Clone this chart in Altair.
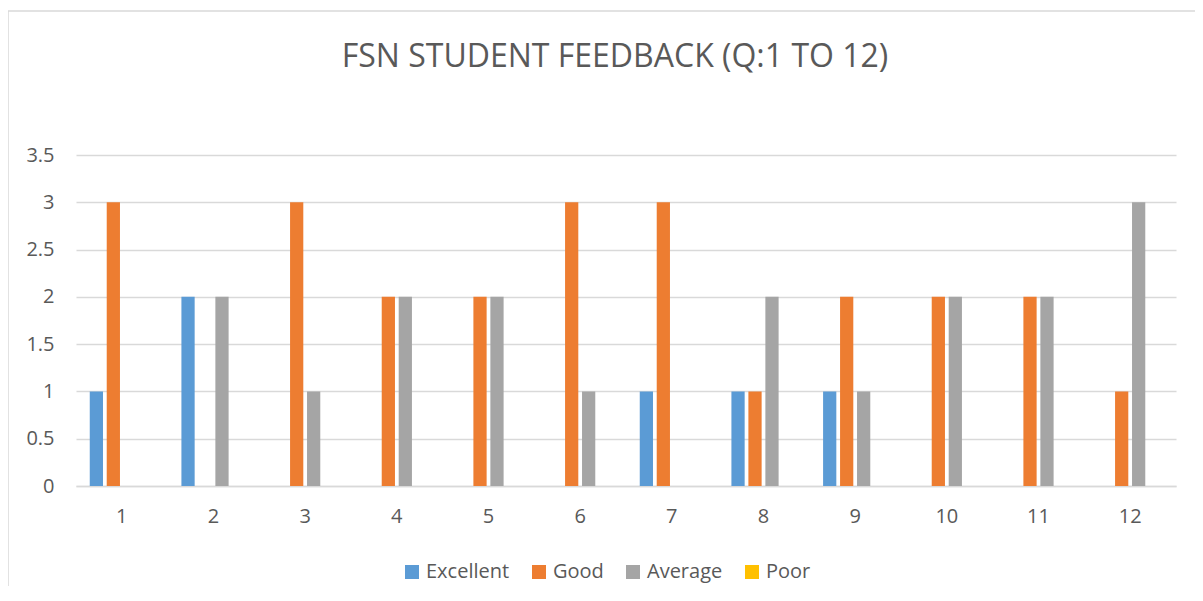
import altair as alt
import pandas as pd

questions = [str(i) for i in range(1, 13)]
series = ["Excellent", "Good", "Average", "Poor"]
excellent = [1, 2, 0, 0, 0, 0, 1, 1, 1, 0, 0, 0]
good = [3, 0, 3, 2, 2, 3, 3, 1, 2, 2, 2, 1]
average = [0, 2, 1, 2, 2, 1, 0, 2, 1, 2, 2, 3]
poor = [0, 0, 0, 0, 0, 0, 0, 0, 0, 0, 0, 0]
colors = ["#5B9BD5", "#ED7D31", "#A5A5A5", "#FFC000"]
y_ticks = [0, 0.5, 1, 1.5, 2, 2.5, 3, 3.5]

rows = []
for name, vals in zip(series, [excellent, good, average, poor]):
    for q, v in zip(questions, vals):
        rows.append({"Question": q, "Rating": name, "Count": v})
df = pd.DataFrame(rows)

FONT = "Open Sans"
TXT = "#595959"

bars = alt.Chart(df).mark_bar().encode(
    x=alt.X("Question:N", sort=questions, title=None,
            scale=alt.Scale(paddingInner=0.30, paddingOuter=0.15),
            axis=alt.Axis(labelAngle=0, ticks=False, domainColor="#D9D9D9",
                          domainWidth=1.5,
                          labelFontSize=20, labelColor=TXT, labelFont=FONT,
                          labelPadding=20, grid=False)),
    xOffset=alt.XOffset("Rating:N", sort=series,
                        scale=alt.Scale(paddingInner=0.22, paddingOuter=0)),
    y=alt.Y("Count:Q", title=None,
            scale=alt.Scale(domain=[0, 3.5], nice=False),
            axis=alt.Axis(values=y_ticks, ticks=False, domain=False, format="~g",
                          gridColor="#D9D9D9", gridWidth=1.5,
                          labelFontSize=20, labelColor=TXT, labelFont=FONT,
                          labelPadding=22)),
    color=alt.Color("Rating:N", sort=series,
                    scale=alt.Scale(domain=series, range=colors),
                    legend=alt.Legend(title=None, orient="none", direction="horizontal",
                                      legendX=326, legendY=407,
                                      symbolType="square", symbolSize=196,
                                      symbolStrokeWidth=0,
                                      labelFontSize=20, labelColor=TXT, labelFont=FONT,
                                      labelOffset=4, columnPadding=19)),
)

frame = alt.Chart(pd.DataFrame({"k": [0]})).mark_rect(
    fill=None, stroke="#D9D9D9", strokeWidth=1.5, clip=False
).encode(x=alt.value(-68), x2=alt.value(1200), y=alt.value(-144), y2=alt.value(560))

chart = alt.layer(frame, bars).properties(
    width=1100, height=331,
    autosize=alt.AutoSizeParams(type="none"),
    padding={"left": 68, "top": 147, "right": 19, "bottom": 100},
    title=alt.TitleParams("FSN STUDENT FEEDBACK (Q:1 TO 12)", fontSize=32,
                          font=FONT, color=TXT, fontWeight="normal",
                          anchor="middle", offset=-64, dx=-11),
).configure_view(stroke=None)

chart.save("out.html", embed_options={"renderer": "svg", "actions": False})
